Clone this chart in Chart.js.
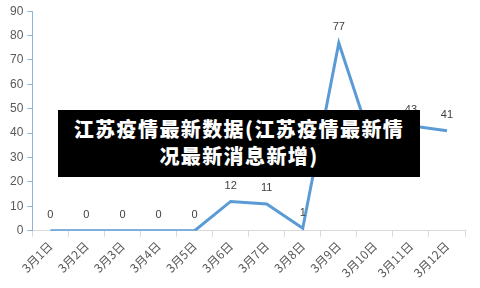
<!DOCTYPE html>
<html>
<head>
<meta charset="utf-8">
<script src="https://cdn.jsdelivr.net/npm/chart.js@4/dist/chart.umd.min.js"></script>
<style>
  html, body { margin: 0; padding: 0; background: #fff; }
  #wrap { position: relative; width: 480px; height: 288px; }
  #banner {
    position: absolute; left: 58px; top: 110px; width: 362px; height: 67px;
    background: #000; color: #fff; text-align: center;
    font-family: "Noto Sans CJK SC", sans-serif; font-weight: 900;
    font-size: 20px; letter-spacing: 1.4px; line-height: 27px;
    padding-top: 5px; box-sizing: border-box;
  }
</style>
</head>
<body>
<div id="wrap">
  <canvas id="myChart" width="480" height="288"></canvas>
  <div id="banner">江苏疫情最新数据(江苏疫情最新情<br>况最新消息新增)</div>
</div>
<script>
const days = ["3月1日", "3月2日", "3月3日", "3月4日", "3月5日", "3月6日",
  "3月7日", "3月8日", "3月9日", "3月10日", "3月11日", "3月12日"];
const newCases = [0, 0, 0, 0, 0, 12, 11, 1, 77, 32, 43, 41];
const yTicks = [0, 10, 20, 30, 40, 50, 60, 70, 80, 90];

// simple value labels above each point
const pointLabels = {
  id: "pointLabels",
  afterDatasetsDraw(chart) {
    const ctx = chart.ctx;
    const meta = chart.getDatasetMeta(0);
    ctx.save();
    ctx.font = "11px 'Liberation Sans', Arial, sans-serif";
    ctx.fillStyle = "#404040";
    ctx.textAlign = "center";
    ctx.textBaseline = "bottom";
    meta.data.forEach(function (pt, i) {
      ctx.fillText(String(newCases[i]), pt.x, pt.y - 10);
    });
    ctx.restore();
  },
};

new Chart(document.getElementById("myChart"), {
  type: "line",
  data: {
    labels: days,
    datasets: [
      {
        data: newCases,
        borderColor: "#5b9bd5",
        borderWidth: 3,
        pointRadius: 0,
        tension: 0,
      },
    ],
  },
  options: {
    responsive: false,
    animation: false,
    layout: { padding: { top: 10, right: 15, left: 6, bottom: 6 } },
    plugins: {
      legend: { display: false },
      tooltip: { enabled: false },
    },
    scales: {
      x: {
        offset: true,
        grid: {
          offset: true,
          drawOnChartArea: false,
          color: "#d9d9d9",
          tickLength: 6,
        },
        border: { color: "#d9d9d9" },
        ticks: {
          color: "#595959",
          padding: 2,
          font: { size: 12, family: "'Noto Sans CJK SC', sans-serif" },
          maxRotation: 45,
          minRotation: 45,
          autoSkip: false,
        },
      },
      y: {
        min: 0,
        max: 90,
        afterBuildTicks(axis) {
          axis.ticks = yTicks.map((v) => ({ value: v }));
        },
        grid: {
          drawOnChartArea: false,
          color: "#8eb4d8",
          tickLength: 5,
        },
        border: { color: "#8eb4d8" },
        ticks: {
          color: "#595959",
          padding: 4,
          font: { size: 12, family: "'Liberation Sans', Arial, sans-serif" },
        },
      },
    },
  },
  plugins: [pointLabels],
});
</script>
</body>
</html>
